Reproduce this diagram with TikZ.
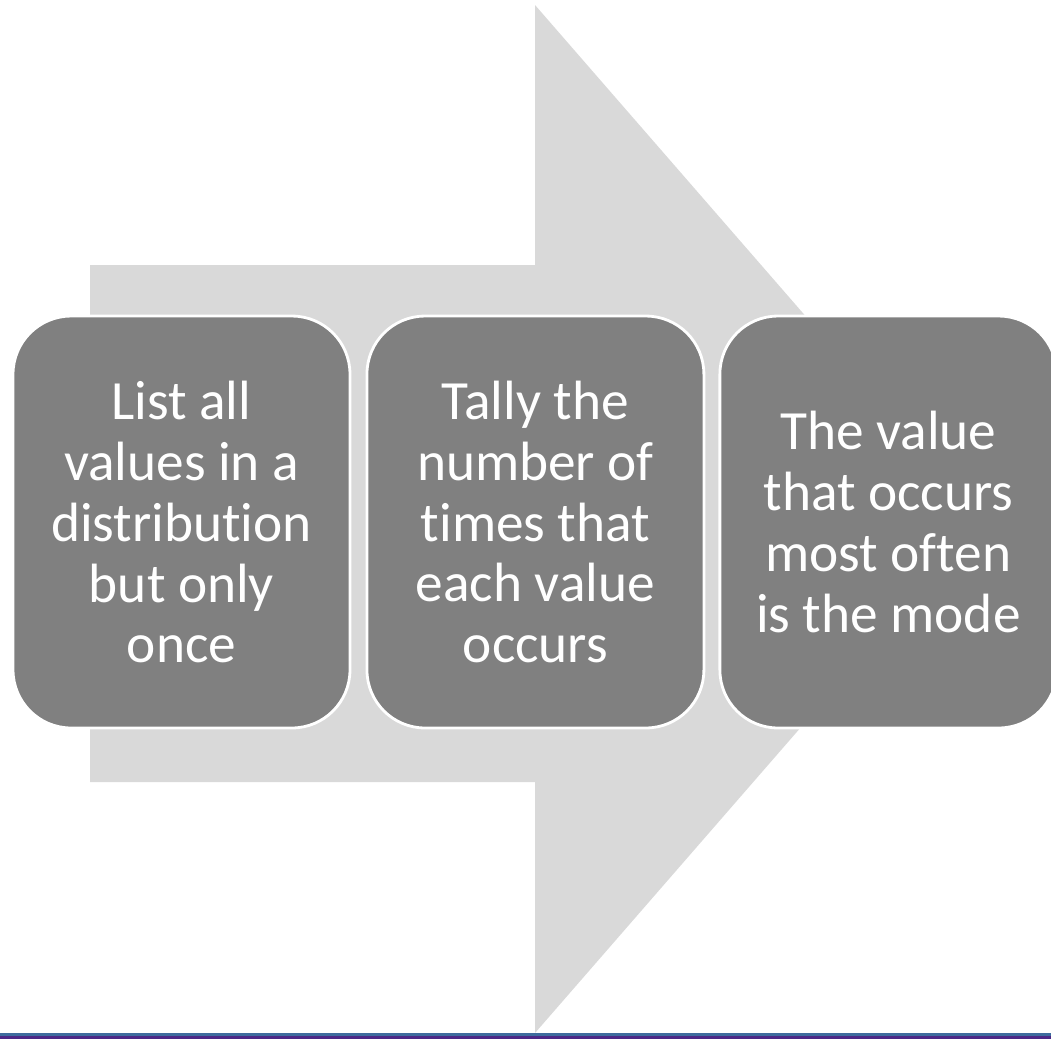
\documentclass[tikz,border=0pt]{standalone}
\usepackage{fontspec}
\setmainfont{Carlito}[RawFeature={-liga;-clig;-calt;-dlig}]
\usepackage{tikz}
\usepackage{xcolor}
\usetikzlibrary{positioning}
\definecolor{flowgray}{RGB}{217, 217, 217}
\definecolor{stepgray}{RGB}{128, 128, 128}
\definecolor{barblue}{RGB}{62, 108, 158}
\definecolor{barpurple}{RGB}{76, 40, 134}
\tikzset{
    stepbox/.style={rectangle, rounded corners=1.16cm, draw=white, line width=1.6pt,
        fill=stepgray, text=white, outer sep=0pt, inner sep=0pt,
        minimum width=6.74cm, minimum height=8.24cm, align=center,
        font=\fontsize{31.5}{34.7}\selectfont}
}

\begin{document}
\begin{tikzpicture}[x=0.02cm, y=-0.02cm]
                \useasboundingbox (0,0) rectangle (1051,1039);
                \clip (0,0) rectangle (1051,1039);
                % big process arrow behind the steps
                \fill[flowgray] (90,265) -- (535,265) -- (535,5) -- (982,519)
                    -- (535,1033) -- (535,782) -- (90,782) -- cycle;
                \node[stepbox] (list) at (181.5,522) {List all\\values in a\\distribution\\but only\\once};
                \node[stepbox, right=0.34cm of list] (tally) {Tally the\\number of\\times that\\each value\\occurs};
                \node[stepbox, right=0.32cm of tally] (mode) {The value\\that occurs\\most often\\is the mode};
                % footer bars
                \fill[barblue] (0,1033) rectangle (1051,1036);
                \fill[barpurple] (0,1036) rectangle (1051,1039);
            \end{tikzpicture}
\end{document}
